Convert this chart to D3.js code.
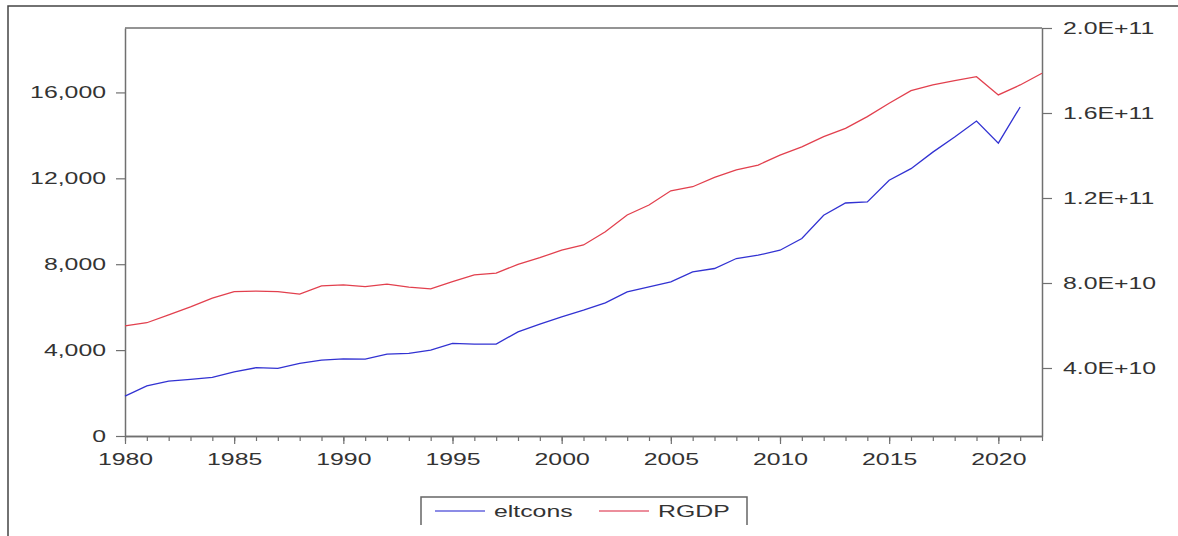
<!DOCTYPE html>
<html>
<head>
<meta charset="utf-8">
<script src="https://cdn.jsdelivr.net/npm/d3@7"></script>
<style>
  body { margin: 0; background: #fff; }
  svg text { font-family: "Liberation Sans", Arial, sans-serif; font-size: 17px; fill: #333; }
</style>
</head>
<body>
<svg id="chart" width="1178" height="536"></svg>
<script>
// data
const years = d3.range(1980, 2023);
const eltcons = [
  1860, 2330, 2560, 2640, 2730, 2990, 3180, 3150, 3380, 3535,
  3595, 3580, 3815, 3850, 4000, 4310, 4280, 4280, 4850, 5210,
  5550, 5860, 6200, 6710, 6945, 7180, 7640, 7800, 8265, 8420,
  8650, 9195, 10280, 10850, 10900, 11910, 12450, 13220, 13920, 14665,
  13640, 15320
];
// RGDP in billions (right axis)
const rgdp = [
  59.8, 61.3, 65.0, 68.8, 72.9, 75.9, 76.2, 75.9, 74.8, 78.6,
  79.1, 78.3, 79.5, 78.1, 77.2, 80.6, 83.8, 84.6, 88.8, 91.9,
  95.5, 97.9, 104.1, 112.0, 116.7, 123.4, 125.3, 129.7, 133.2, 135.5,
  140.2, 144.1, 148.9, 152.8, 158.3, 164.6, 170.5, 173.2, 175.2, 177.1,
  168.5, 173.2, 178.7
];
const leftTicks = [0, 4000, 8000, 12000, 16000];
const rightTicks = [40, 80, 120, 160, 200];
const yearTicks = d3.range(1980, 2021, 5);
const seriesNames = ["eltcons", "RGDP"];

const blue = "#3232d2", red = "#e2404e";
const axisColor = "#707070";
const stretch = 1.46;

const plotL = 125, plotR = 1042, plotT = 28, plotB = 436;
const svg = d3.select("#chart");

const x = d3.scaleLinear().domain([1980, 2022]).range([plotL, plotR]);
const yL = d3.scaleLinear().domain([0, 19000]).range([plotB, plotT]);
const yR = d3.scaleLinear().domain([8, 200]).range([plotB, plotT]);

// the graph text in the reference is stretched wide
function widen(sel) {
  sel.selectAll("text").each(function () {
    const t = d3.select(this);
    const tx = +t.attr("x") || 0, ty = +t.attr("y") || 0;
    t.attr("x", 0).attr("y", 0)
      .attr("transform", `translate(${tx},${ty}) scale(${stretch},1)`);
  });
}

// outer frame (left + top only)
svg.append("path")
  .attr("d", "M8,536V6H1178")
  .attr("fill", "none")
  .attr("stroke", "#444")
  .attr("stroke-width", 1.5);

// top edge of the plot box
svg.append("line")
  .attr("x1", plotL).attr("x2", plotR)
  .attr("y1", plotT).attr("y2", plotT)
  .attr("stroke", axisColor).attr("stroke-width", 1.5);

const gL = svg.append("g")
  .attr("transform", `translate(${plotL},0)`)
  .attr("color", axisColor)
  .call(d3.axisLeft(yL).tickValues(leftTicks).tickFormat(d3.format(","))
    .tickSize(9).tickSizeOuter(0).tickPadding(10));
gL.call(widen);

const gR = svg.append("g")
  .attr("transform", `translate(${plotR},0)`)
  .attr("color", axisColor)
  .call(d3.axisRight(yR).tickValues(rightTicks)
    .tickFormat((d) => (d * 1e9).toExponential(1).toUpperCase())
    .tickSize(10).tickSizeOuter(0).tickPadding(11));
gR.call(widen);

svg.append("g")
  .attr("transform", `translate(0,${plotB})`)
  .attr("color", axisColor)
  .call(d3.axisBottom(x).tickValues(years).tickFormat("").tickSize(5).tickSizeOuter(0));

const gB = svg.append("g")
  .attr("transform", `translate(0,${plotB})`)
  .attr("color", axisColor)
  .call(d3.axisBottom(x).tickValues(yearTicks).tickFormat(d3.format("d"))
    .tickSize(8).tickSizeOuter(0).tickPadding(9));
gB.call(widen);

svg.selectAll(".domain").attr("stroke-width", 1.5);
svg.selectAll(".tick line").attr("stroke-width", 1.2);

// lines
const lineL = d3.line().x((d, i) => x(years[i])).y((d) => yL(d));
const lineR = d3.line().x((d, i) => x(years[i])).y((d) => yR(d));

svg.append("path")
  .datum(rgdp)
  .attr("d", lineR)
  .attr("fill", "none")
  .attr("stroke", red)
  .attr("stroke-width", 1.3);

svg.append("path")
  .datum(eltcons)
  .attr("d", lineL)
  .attr("fill", "none")
  .attr("stroke", blue)
  .attr("stroke-width", 1.3);

// legend
svg.append("path")
  .attr("d", "M421,525V497H747V525")
  .attr("fill", "none")
  .attr("stroke", "#666")
  .attr("stroke-width", 1.5);

const legendColors = ["#8c8ce6", "#ec8e9c"];
const leg = svg.selectAll(".leg")
  .data(seriesNames)
  .enter()
  .append("g")
  .attr("class", "leg")
  .attr("transform", (d, i) => `translate(${435 + i * 164},511)`);
leg.append("line")
  .attr("x1", 0).attr("x2", 50)
  .attr("stroke", (d, i) => legendColors[i])
  .attr("stroke-width", 2);
leg.append("text")
  .attr("transform", `translate(59,6) scale(${stretch},1)`)
  .text((d) => d);
</script>
</body>
</html>
